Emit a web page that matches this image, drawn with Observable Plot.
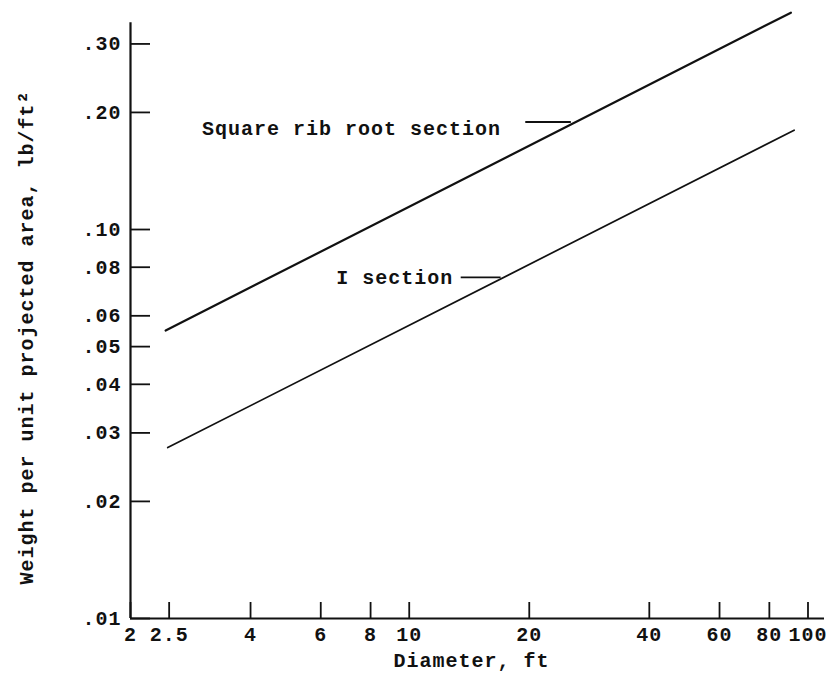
<!DOCTYPE html>
<html>
<head>
<meta charset="utf-8">
<script src="https://cdn.jsdelivr.net/npm/d3@7"></script>
<script src="https://cdn.jsdelivr.net/npm/@observablehq/plot@0.6"></script>
<style>
  html, body { margin: 0; padding: 0; background: #fff; }
</style>
</head>
<body>
<div id="chart"></div>
<script>
// Tick values and labels
const xTicks = [2, 2.5, 4, 6, 8, 10, 20, 40, 60, 80, 100];
const xTickLabels = ["2", "2.5", "4", "6", "8", "10", "20", "40", "60", "80", "100"];
const yTicks = [0.01, 0.02, 0.03, 0.04, 0.05, 0.06, 0.08, 0.10, 0.20, 0.30];
const yTickLabels = [".01", ".02", ".03", ".04", ".05", ".06", ".08", ".10", ".20", ".30"];

// Series (straight lines on log-log paper, endpoints)
const seriesNames = ["Square rib root section", "I section"];
const squareRibDiameter = [2.45, 90.6];
const squareRibWeight = [0.055, 0.361];
const iSectionDiameter = [2.48, 92.3];
const iSectionWeight = [0.0275, 0.180];

// Label annotations (data space): text anchor point and leader line ends
const labelTextX = [17.0, 12.9];
const labelTextY = [0.182, 0.0753];
const leaderX1 = [19.6, 13.5];
const leaderX2 = [25.5, 17.0];
const leaderY = [0.189, 0.0753];

const xDomain = [2, 110];
const yDomain = [0.01, 0.37];
const yAxisTop = 0.34;

const lines = [
  ...squareRibDiameter.map((d, i) => ({series: seriesNames[0], d, w: squareRibWeight[i]})),
  ...iSectionDiameter.map((d, i) => ({series: seriesNames[1], d, w: iSectionWeight[i]}))
];
const labels = seriesNames.map((name, i) => ({
  name, tx: labelTextX[i], ty: labelTextY[i], x1: leaderX1[i], x2: leaderX2[i], ly: leaderY[i]
}));
const xTickData = xTicks.map((v, i) => ({v, label: xTickLabels[i]}));
const yTickData = yTicks.map((v, i) => ({v, label: yTickLabels[i]}));

const font = "'Liberation Mono', 'DejaVu Sans Mono', monospace";
const ink = "#111";

const chart = Plot.plot({
  width: 836,
  height: 675,
  marginLeft: 130,
  marginRight: 12,
  marginTop: 8,
  marginBottom: 57,
  style: {fontFamily: font, fontSize: "20px", fontWeight: "bold", color: ink, background: "#fff", letterSpacing: "1px"},
  x: {type: "log", domain: xDomain, axis: null},
  y: {type: "log", domain: yDomain, axis: null},
  marks: [
    // axis lines
    Plot.ruleX([xDomain[0]], {y1: yDomain[0], y2: yAxisTop, stroke: ink, strokeWidth: 2.2}),
    Plot.ruleY([yDomain[0]], {x1: xDomain[0], x2: xDomain[1], stroke: ink, strokeWidth: 2.2}),
    // inward ticks
    Plot.axisX({ticks: xTicks, tickSize: 16, dy: -16, fill: "none", stroke: ink, strokeWidth: 1.8, label: null}),
    Plot.axisY({ticks: yTicks, tickSize: 20, dx: 20, fill: "none", stroke: ink, strokeWidth: 1.8, label: null}),
    // tick labels
    Plot.text(xTickData, {x: "v", y: yDomain[0], text: "label", dy: 16, lineAnchor: "middle", textAnchor: "middle", fontSize: 20, fill: ink}),
    Plot.text(yTickData, {x: xDomain[0], y: "v", text: "label", dx: -9, textAnchor: "end", fontSize: 20, fill: ink}),
    // axis titles
    Plot.text(["Diameter, ft"], {frameAnchor: "bottom", textAnchor: "middle", lineAnchor: "middle", dx: -6, dy: 42, fontSize: 20, fill: ink}),
    Plot.text(["Weight per unit projected area, lb/ft²"], {frameAnchor: "left", textAnchor: "middle", lineAnchor: "middle", rotate: -90, dx: -104, dy: 24, fontSize: 20, fill: ink}),
    // data lines
    Plot.line(lines, {x: "d", y: "w", z: "series", stroke: ink, strokeWidth: d => d.series === seriesNames[0] ? 2.2 : 1.7}),
    // leaders and labels
    Plot.ruleY(labels, {y: "ly", x1: "x1", x2: "x2", stroke: ink, strokeWidth: 1.8}),
    Plot.text(labels, {x: "tx", y: "ty", text: "name", textAnchor: "end", fontSize: 20, fill: ink})
  ]
});

document.getElementById("chart").appendChild(chart);
</script>
</body>
</html>
